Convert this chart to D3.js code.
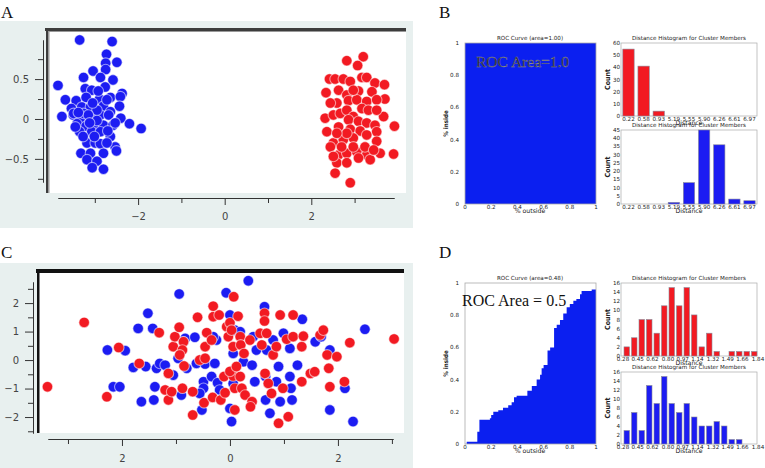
<!DOCTYPE html>
<html><head><meta charset="utf-8">
<script src="https://cdn.jsdelivr.net/npm/d3@7/dist/d3.min.js"></script>
<style>body{margin:0;background:#fff}svg{display:block}text{font-family:"DejaVu Sans",sans-serif}</style>
</head><body><svg id="c" width="765" height="468"></svg>
<script>
// ---------------- DATA ----------------
// Panel A scatter (x, y)
const blueA = [[-3.35,0.99],[-2.60,0.97],[-2.73,0.81],[-2.49,0.71],[-2.75,0.70],[-2.75,0.62],[-3.04,0.60],[-3.26,0.52],[-2.87,0.52],[-2.58,0.49],[-3.85,0.42],[-3.22,0.38],[-3.07,0.36],[-2.76,0.40],[-2.37,0.32],[-2.64,0.27],[-3.68,0.24],[-3.43,0.23],[-3.20,0.27],[-2.89,0.25],[-2.41,0.28],[-2.43,0.16],[-3.54,0.13],[-3.30,0.15],[-3.10,0.15],[-2.80,0.16],[-2.64,0.09],[-3.76,0.03],[-3.50,0.05],[-3.33,0.01],[-3.10,0.02],[-2.87,0.05],[-2.68,0.05],[-2.40,0.01],[-2.20,-0.06],[-1.93,-0.12],[-3.41,-0.06],[-3.20,-0.09],[-2.99,-0.08],[-2.80,-0.08],[-2.58,-0.08],[-3.35,-0.16],[-3.07,-0.16],[-2.87,-0.16],[-3.18,-0.30],[-2.99,-0.30],[-2.87,-0.31],[-2.64,-0.22],[-2.53,-0.35],[-2.50,-0.40],[-3.32,-0.43],[-3.10,-0.43],[-2.80,-0.43],[-3.18,-0.51],[-2.95,-0.53],[-3.06,-0.61],[-2.80,-0.63],[-3.49,0.07],[-2.95,0.11],[-3.26,0.07],[-2.72,0.24],[-2.53,-0.05],[-3.45,-0.10],[-3.27,-0.22],[-3.01,-0.22],[-2.72,-0.30],[-3.15,0.05],[-2.95,-0.02],[-3.05,0.20],[-2.70,-0.15],[-3.38,0.08],[-2.92,0.35],[-3.12,-0.05]];
const redA = [[3.20,0.78],[2.82,0.73],[3.07,0.67],[2.42,0.50],[2.55,0.50],[2.74,0.50],[2.90,0.47],[3.17,0.52],[3.28,0.52],[3.47,0.45],[3.69,0.43],[2.34,0.33],[2.63,0.36],[2.82,0.30],[3.09,0.35],[3.40,0.34],[3.70,0.25],[2.59,0.20],[2.86,0.23],[3.05,0.24],[3.28,0.22],[3.51,0.24],[2.32,0.01],[2.51,0.05],[2.67,0.07],[2.82,0.11],[2.97,0.03],[3.17,0.13],[3.32,0.11],[2.86,-0.01],[3.09,-0.03],[3.28,-0.05],[3.47,-0.08],[2.63,-0.10],[2.90,-0.13],[3.13,-0.15],[3.51,-0.16],[3.92,-0.09],[2.36,-0.16],[2.51,-0.30],[2.74,-0.26],[2.97,-0.24],[3.28,-0.20],[3.51,-0.28],[2.44,-0.35],[2.63,-0.45],[2.82,-0.43],[3.05,-0.41],[3.28,-0.45],[3.59,-0.43],[3.90,-0.44],[2.59,-0.55],[2.82,-0.55],[3.09,-0.49],[3.36,-0.51],[2.55,-0.68],[2.90,-0.80],[2.51,-0.47],[2.70,-0.35],[2.97,-0.35],[3.24,-0.35],[3.44,-0.39],[3.67,0.03],[2.44,0.20],[3.51,0.11],[2.97,0.36],[2.82,-0.18],[2.59,-0.18]];
// Panel C scatter (x, y)
const blueC = [[0.34,2.78],[-0.94,2.32],[-0.07,2.36],[-1.52,1.64],[0.64,1.87],[0.00,1.58],[-1.70,1.11],[-1.43,1.11],[-2.27,0.35],[-1.94,0.33],[-0.83,0.76],[-0.65,0.80],[-0.25,0.70],[0.09,1.05],[0.19,0.99],[0.43,0.82],[0.80,0.70],[0.99,0.94],[1.11,0.41],[1.34,1.43],[1.58,0.64],[1.69,0.82],[1.85,0.35],[2.50,1.08],[-1.79,-0.26],[-1.56,-0.23],[-1.36,-0.29],[-1.30,-0.12],[-1.20,-0.18],[-1.05,-0.53],[-0.96,0.06],[-0.80,-0.29],[-0.62,-0.12],[-0.46,-0.14],[-0.28,-0.12],[0.06,0.23],[0.25,-0.06],[0.41,-0.18],[0.49,0.35],[0.68,0.35],[0.90,-0.23],[1.25,-0.18],[-2.16,-0.94],[-2.04,-0.94],[-1.39,-0.94],[-1.64,-1.46],[-1.41,-1.40],[-0.90,-1.23],[-0.49,-0.76],[-0.34,-0.58],[-0.23,-0.80],[-0.49,-0.99],[-0.19,-1.05],[0.06,-0.82],[0.46,-0.76],[0.66,-0.58],[0.86,-0.76],[1.11,-0.58],[1.13,-0.99],[0.66,-1.40],[0.93,-1.46],[1.15,-1.40],[0.74,-1.87],[0.00,-1.70],[-0.52,-1.75],[0.03,-2.16],[1.85,-1.75],[2.28,-2.16],[2.13,-0.99],[-0.56,-1.17],[-0.86,0.64],[-0.31,0.82]];
const redC = [[-3.38,-0.94],[-2.70,1.32],[-2.28,-1.29],[-2.06,0.44],[-1.68,-0.12],[-1.31,0.96],[-1.14,-0.47],[-1.20,-1.05],[-1.14,-1.40],[-1.08,-1.11],[-1.05,0.47],[-1.02,0.82],[-0.94,1.15],[-0.86,0.64],[-0.88,0.35],[-0.85,-0.21],[-0.88,-0.99],[-0.69,-1.93],[-0.69,-1.11],[-0.60,1.50],[-0.56,0.00],[-0.46,0.06],[-0.43,0.96],[-0.46,0.47],[-0.34,0.70],[-0.48,-1.50],[-0.32,-1.31],[-0.31,1.89],[-0.31,1.52],[-0.20,1.58],[-0.17,-1.40],[-0.11,-0.58],[-0.09,-1.15],[-0.06,1.17],[-0.03,0.82],[0.00,1.31],[0.07,2.22],[0.06,0.47],[0.05,-0.37],[0.06,-0.56],[0.09,-0.99],[0.09,-1.75],[0.15,1.54],[0.19,0.82],[0.20,0.53],[0.19,-0.58],[0.22,-0.99],[0.26,0.23],[0.28,-1.23],[0.37,0.70],[0.41,-1.46],[0.38,-1.64],[0.56,0.94],[0.59,0.53],[0.64,1.64],[0.64,1.37],[0.68,0.94],[0.65,-0.47],[0.71,-0.82],[0.77,-1.17],[0.80,0.18],[0.86,0.47],[0.90,-2.22],[0.93,1.58],[0.98,-0.99],[1.05,0.73],[1.08,-1.99],[1.17,1.58],[1.17,0.82],[1.33,0.47],[1.36,0.84],[1.33,-0.76],[1.49,-0.47],[1.57,-0.41],[1.67,0.88],[1.73,1.05],[1.80,0.18],[1.83,-0.29],[1.85,-0.94],[1.98,0.12],[2.12,-0.76],[2.22,0.61],[3.04,0.74],[0.03,1.05],[0.00,-0.40],[0.12,-0.23],[-0.93,0.18]];
// Axis ticks
const xTicksA = [-2, 0, 2], xTickLabelsA = ["\u22122", "0", "2"], xMinorA = [-3, -1, 1, 3];
const yTicksA = [-0.5, 0, 0.5], yTickLabelsA = ["\u22120.5", "0", "0.5"], yMinorA = [-0.75, -0.25, 0.25, 0.75];
const xTicksC = [-2, 0, 2], xTickLabelsC = ["2", "0", "2"], xMinorC = [-3, -1, 1, 3];
const yTicksC = [-2, -1, 0, 1, 2], yTickLabelsC = ["\u22122", "\u22121", "0", "1", "2"], yMinorC = [-2.5, -1.5, -0.5, 0.5, 1.5, 2.5];
// ROC curves (false positive rate, true positive rate)
const rocB_fpr = [0, 0, 1];
const rocB_tpr = [0, 1, 1];
const rocD_fpr = [0, 0.013, 0.094, 0.11, 0.19, 0.20, 0.216, 0.254, 0.29, 0.33, 0.356, 0.374, 0.394, 0.476, 0.51, 0.547, 0.573, 0.585, 0.60, 0.63, 0.65, 0.68, 0.70, 0.725, 0.75, 0.776, 0.80, 0.827, 0.85, 0.878, 0.89, 0.967, 1.0];
const rocD_tpr = [0, 0.014, 0.076, 0.15, 0.16, 0.18, 0.20, 0.21, 0.225, 0.24, 0.26, 0.29, 0.30, 0.33, 0.36, 0.40, 0.43, 0.47, 0.49, 0.58, 0.60, 0.72, 0.74, 0.77, 0.81, 0.85, 0.87, 0.89, 0.90, 0.93, 0.95, 0.96, 0.975];
const rocTicks = [0, 0.2, 0.4, 0.6, 0.8, 1], rocTickLabels = ["0", "0.2", "0.4", "0.6", "0.8", "1"];
// Histograms
const histB_labels = ["0.22", "0.58", "0.93", "5.19", "5.55", "5.90", "6.26", "6.61", "6.97"];
const histB_red = [55, 41, 4, 0, 0, 0, 0, 0, 0];
const histB_blue = [0, 0, 0, 1, 13, 45, 36, 3, 2];
const histB_redTicks = [0, 10, 20, 30, 40, 50, 60];
const histB_blueTicks = [0, 5, 10, 15, 20, 25, 30, 35, 40, 45];
const histD_labels = ["0.28", "0.45", "0.62", "0.80", "0.97", "1.14", "1.32", "1.49", "1.66", "1.84"];
const histD_range = [0.28, 1.84];
const histD_red = [2, 4, 8, 8, 5, 11, 15, 11, 15, 9, 2, 5, 1, 0, 1, 1, 1, 1];
const histD_blue = [3, 7, 3, 13, 9, 15, 9, 7, 9, 6, 4, 4, 5, 4, 1, 1, 0, 0];
const histD_ticks = [0, 2, 4, 6, 8, 10, 12, 14, 16];

// ---------------- DRAWING ----------------
const svg = d3.select("#c");
const BLUE = "#1c1cf2", RED = "#f21a22", ROCBLUE = "#0b1ff0";
const BG = "#e8f0ef";

function panelLabel(t, x, y) {
  svg.append("text").attr("x", x).attr("y", y).text(t)
    .style("font-family", '"Liberation Serif","DejaVu Serif",serif').style("font-size", "17px").attr("fill", "#111");
}
panelLabel("A", 1, 18); panelLabel("B", 439, 18); panelLabel("C", 1, 258); panelLabel("D", 439, 258);

function scatter(c) {
  const g = svg.append("g");
  g.append("rect").attr("x", c.bg[0]).attr("y", c.bg[1]).attr("width", c.bg[2]).attr("height", c.bg[3]).attr("fill", BG);
  g.append("rect").attr("x", c.plot[0]).attr("y", c.plot[1]).attr("width", c.plot[2]).attr("height", c.plot[3]).attr("fill", "#fff");
  const [px, py, pw, ph] = c.plot;
  g.append("line").attr("x1", px - 1).attr("x2", px + pw).attr("y1", py + c.topW / 2).attr("y2", py + c.topW / 2)
    .attr("stroke", c.frameColor).attr("stroke-width", c.topW);
  g.append("line").attr("x1", px + c.leftW / 2).attr("x2", px + c.leftW / 2).attr("y1", py).attr("y2", py + ph)
    .attr("stroke", c.frameColor).attr("stroke-width", c.leftW);
  if (c.inner) {
    g.append("line").attr("x1", px + c.leftW).attr("x2", px + pw).attr("y1", py + c.topW + 0.5).attr("y2", py + c.topW + 0.5).attr("stroke", "#999").attr("stroke-width", 1);
    g.append("line").attr("x1", px + c.leftW + 0.5).attr("x2", px + c.leftW + 0.5).attr("y1", py + c.topW).attr("y2", py + ph).attr("stroke", "#999").attr("stroke-width", 1);
  }
  const x = c.x, y = c.y;
  const axStyle = a => {
    a.selectAll("path,line").attr("stroke", "#333").attr("stroke-width", 1);
    a.selectAll("text").attr("fill", "#444").style("font-size", "10px").style("font-family", '"DejaVu Sans",sans-serif');
  };
  const yAx = g.append("g").attr("transform", `translate(${c.yAxisX},0)`)
    .call(d3.axisLeft(y).tickValues(c.yTicks).tickFormat((d, i) => c.yLabels[i]).tickSize(8).tickSizeOuter(0).tickPadding(6));
  axStyle(yAx);
  const yMin = g.append("g").attr("transform", `translate(${c.yAxisX},0)`)
    .call(d3.axisLeft(y).tickValues(c.yMinor).tickFormat("").tickSize(5).tickSizeOuter(0));
  axStyle(yMin);
  const xAx = g.append("g").attr("transform", `translate(0,${c.xAxisY})`)
    .call(d3.axisBottom(x).tickValues(c.xTicks).tickFormat((d, i) => c.xLabels[i]).tickSize(7).tickSizeOuter(0).tickPadding(c.xPad));
  axStyle(xAx);
  const xMin = g.append("g").attr("transform", `translate(0,${c.xAxisY})`)
    .call(d3.axisBottom(x).tickValues(c.xMinor).tickFormat("").tickSize(5).tickSizeOuter(0));
  axStyle(xMin);
  const pts = (data, col) => g.append("g").selectAll("circle").data(data).join("circle")
    .attr("cx", d => x(d[0])).attr("cy", d => y(d[1])).attr("r", 5.3)
    .attr("fill", col).attr("stroke", "rgba(255,255,255,0.55)").attr("stroke-width", 1.1);
  pts(c.blue, BLUE);
  pts(c.red, RED);
}

scatter({
  bg: [0, 21, 413, 207], plot: [46, 28, 360, 165], topW: 3, leftW: 2.5, frameColor: "#3c3c3c", inner: true,
  x: d3.scaleLinear().domain([-3.85, 3.91]).range([58, 394]),
  y: d3.scaleLinear().domain([-0.79, 0.99]).range([182, 40]),
  yAxisX: 43, xAxisY: 198, xPad: 8,
  xTicks: xTicksA, xLabels: xTickLabelsA, xMinor: xMinorA,
  yTicks: yTicksA, yLabels: yTickLabelsA, yMinor: yMinorA,
  blue: blueA, red: redA
});
scatter({
  bg: [0, 263, 413, 205], plot: [37, 269, 367, 164], topW: 4, leftW: 2.5, frameColor: "#111", inner: false,
  x: d3.scaleLinear().domain([-3.37, 3.02]).range([48, 393]),
  y: d3.scaleLinear().domain([-2.56, 2.74]).range([433, 282]),
  yAxisX: 33, xAxisY: 439, xPad: 9,
  xTicks: xTicksC, xLabels: xTickLabelsC, xMinor: xMinorC,
  yTicks: yTicksC, yLabels: yTickLabelsC, yMinor: yMinorC,
  blue: blueC, red: redC
});

const tiny = sel => sel.style("font-size", "5.6px").attr("fill", "#222");

function roc(c) {
  const g = svg.append("g");
  const x = d3.scaleLinear().domain([0, 1]).range([465, 596]);
  const y = d3.scaleLinear().domain([0, 1]).range([c.y0, c.y1]);
  const pts = c.fpr.map((f, i) => [f, c.tpr[i]]);
  g.append("path").datum(pts)
    .attr("d", d3.area().x(d => x(d[0])).y0(y(0)).y1(d => y(d[1])).curve(d3.curveStepAfter))
    .attr("fill", ROCBLUE);
  g.append("rect").attr("x", x(0)).attr("y", y(1)).attr("width", x(1) - x(0)).attr("height", y(0) - y(1))
    .attr("fill", "none").attr("stroke", "#aaa").attr("stroke-width", 0.8);
  rocTicks.forEach((t, i) => {
    tiny(g.append("text").attr("x", 459).attr("y", y(t) + 2).attr("text-anchor", "end").text(rocTickLabels[i]));
    tiny(g.append("text").attr("x", x(t)).attr("y", y(0) + 4.5).attr("text-anchor", "middle").text(rocTickLabels[i]));
  });
  tiny(g.append("text").attr("x", 530).attr("y", y(1) - 3.5).attr("text-anchor", "middle").text(c.title));
  tiny(g.append("text").attr("x", 530).attr("y", y(0) + 9).attr("text-anchor", "middle").text("% outside")).style("font-size", "6.2px");
  tiny(g.append("text").attr("transform", `translate(448,${(y(0) + y(1)) / 2}) rotate(-90)`).attr("text-anchor", "middle").text("% inside"))
    .style("font-size", "6.2px").style("font-weight", "bold").style("font-family", '"Liberation Sans Narrow","DejaVu Sans Condensed",sans-serif');
  g.append("text").attr("x", c.tx).attr("y", c.ty).text(c.note)
    .style("font-family", '"Liberation Serif","DejaVu Serif",serif').style("font-size", c.fs + "px").attr("fill", c.noteColor)
    .attr("stroke", c.noteStroke).attr("stroke-width", 0.4);
}
roc({ y0: 204, y1: 43, fpr: rocB_fpr, tpr: rocB_tpr, title: "ROC Curve (area=1.00)", note: "ROC Area=1.0", tx: 476, ty: 67, fs: 15.5, noteColor: "#1a1a28", noteStroke: "#8a8a99" });
roc({ y0: 444, y1: 283, fpr: rocD_fpr, tpr: rocD_tpr, title: "ROC Curve (area=0.48)", note: "ROC Area = 0.5", tx: 462, ty: 306, fs: 16, noteColor: "#111", noteStroke: "none" });

function hist(c) {
  const g = svg.append("g");
  const y = d3.scaleLinear().domain([0, c.yMax]).range([c.yb, c.yt]);
  let xs, bw;
  if (c.band) {
    const xb = d3.scaleBand().domain(c.labels).range([621, 757]).paddingInner(0.25).paddingOuter(0.12);
    xs = (d, i) => xb(c.labels[i]); bw = xb.bandwidth();
    c.labels.forEach(l => tiny(g.append("text").attr("x", xb(l) + bw / 2).attr("y", c.yb + 4.5).attr("text-anchor", "middle").text(l)));
  } else {
    const xl = d3.scaleLinear().domain(c.range).range([623, 758]);
    const w = (c.range[1] - c.range[0]) / c.values.length;
    xs = (d, i) => xl(c.range[0] + i * w) + 1; bw = xl(c.range[0] + w) - xl(c.range[0]) - 2;
    c.labels.forEach(l => tiny(g.append("text").attr("x", xl(+l)).attr("y", c.yb + 4.5).attr("text-anchor", "middle").text(l)));
  }
  g.append("rect").attr("x", 621).attr("y", c.yt).attr("width", 136).attr("height", c.yb - c.yt)
    .attr("fill", "none").attr("stroke", "#aaa").attr("stroke-width", 0.7);
  g.selectAll("rect.bar").data(c.values).join("rect").attr("class", "bar")
    .attr("x", xs).attr("width", bw).attr("y", d => y(d)).attr("height", d => y(0) - y(d))
    .attr("fill", c.color).attr("stroke", "#8a8a9a").attr("stroke-width", 0.6);
  c.ticks.forEach(t => tiny(g.append("text").attr("x", 620).attr("y", y(t) + 2).attr("text-anchor", "end").text(t)));
  tiny(g.append("text").attr("x", 689).attr("y", c.yt - 3).attr("text-anchor", "middle").text("Distance Histogram for Cluster Members"));
  tiny(g.append("text").attr("x", 689).attr("y", c.yb + 9).attr("text-anchor", "middle").text("Distance")).style("font-size", "6.2px");
  tiny(g.append("text").attr("transform", `translate(610,${(c.yb + c.yt) / 2}) rotate(-90)`).attr("text-anchor", "middle").text("Count"))
    .style("font-size", "7px").style("font-weight", "bold").style("font-family", '"Liberation Sans Narrow","DejaVu Sans Condensed",sans-serif');
}
hist({ band: true, labels: histB_labels, values: histB_red, yMax: 60, ticks: histB_redTicks, yt: 43, yb: 116, color: RED });
hist({ band: true, labels: histB_labels, values: histB_blue, yMax: 45, ticks: histB_blueTicks, yt: 130, yb: 204, color: BLUE });
hist({ band: false, labels: histD_labels, range: histD_range, values: histD_red, yMax: 16, ticks: histD_ticks, yt: 283, yb: 356, color: RED });
hist({ band: false, labels: histD_labels, range: histD_range, values: histD_blue, yMax: 16, ticks: histD_ticks, yt: 372, yb: 444, color: BLUE });
</script></body></html>
